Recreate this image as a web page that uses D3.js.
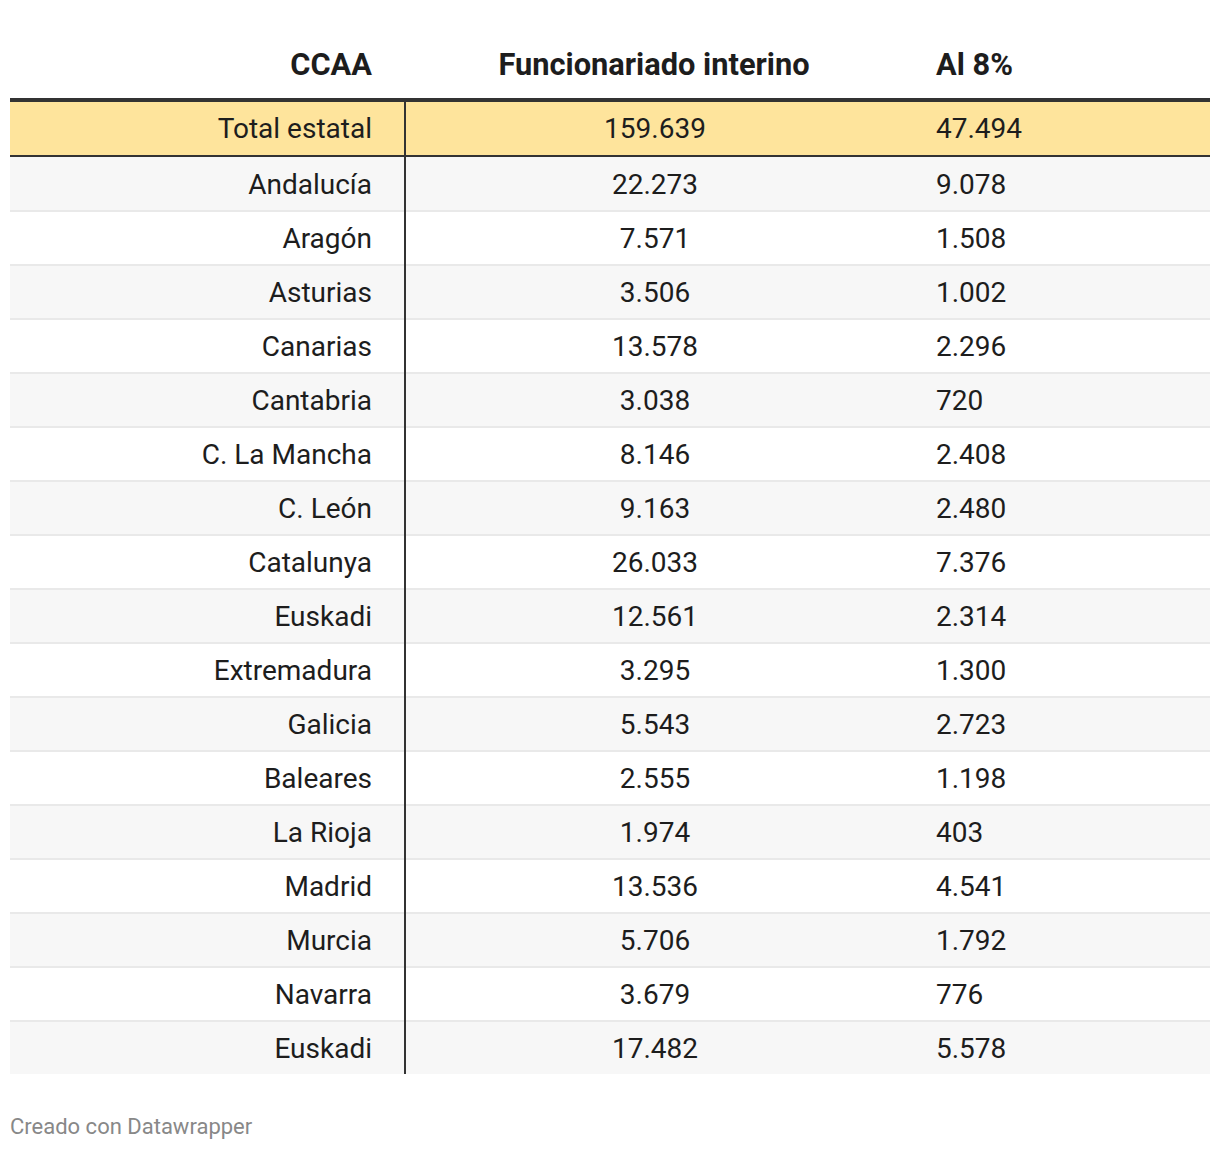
<!DOCTYPE html>
<html><head><meta charset="utf-8">
<script src="https://cdn.jsdelivr.net/npm/d3@7"></script>
<style>
html,body{margin:0;padding:0;background:#fff;}
svg text{font-family:Roboto,"Noto Sans",sans-serif;}
</style></head>
<body>
<script>
const headers = ["CCAA", "Funcionariado interino", "Al 8%"];
const regions = ["Total estatal","Andalucía","Aragón","Asturias","Canarias","Cantabria","C. La Mancha","C. León","Catalunya","Euskadi","Extremadura","Galicia","Baleares","La Rioja","Madrid","Murcia","Navarra","Euskadi"];
const funcionariado = [159639,22273,7571,3506,13578,3038,8146,9163,26033,12561,3295,5543,2555,1974,13536,5706,3679,17482];
const al8 = [47494,9078,1508,1002,2296,720,2408,2480,7376,2314,1300,2723,1198,403,4541,1792,776,5578];
const footer = "Creado con Datawrapper";

const W = 1220, H = 1150;
const svg = d3.select("body").append("svg").attr("width", W).attr("height", H);
const loc = d3.formatLocale({decimal: ",", thousands: ".", grouping: [3], currency: ["", "€"]});
const fmt = loc.format(",d");

const rows = regions.map((r, i) => ({i, name: r, f: funcionariado[i], a: al8[i]}));
const y = d3.scaleBand().domain(rows.map(d => d.i)).range([102, 102 + 54 * rows.length]).padding(0);
const left = 10, right = 1210;
const xCol1 = 372, xCol2 = 655, xCol3 = 936, xSep = 405;

// header
const hdr = svg.append("g").attr("font-weight", 700).attr("font-size", 30.8).attr("fill", "#1d1d1d");
hdr.append("text").attr("x", xCol1).attr("y", 75).attr("text-anchor", "end").text(headers[0]);
hdr.append("text").attr("x", xCol2 - 1).attr("y", 75).attr("text-anchor", "middle").text(headers[1]);
hdr.append("text").attr("x", xCol3).attr("y", 75).attr("text-anchor", "start").text(headers[2]);

// row backgrounds
const g = svg.append("g");
g.selectAll("rect.bg").data(rows).join("rect")
  .attr("x", left).attr("width", right - left)
  .attr("y", d => y(d.i)).attr("height", y.bandwidth())
  .attr("fill", d => d.i === 0 ? "#fee49c" : (d.i % 2 === 1 ? "#f7f7f7" : "#ffffff"));

// light separators
g.selectAll("rect.sep").data(rows.filter(d => d.i > 0 && d.i < rows.length - 1)).join("rect")
  .attr("x", left).attr("width", right - left)
  .attr("y", d => y(d.i) + y.bandwidth()).attr("height", 2)
  .attr("fill", "#e9e9e9");

// top thick border & total bottom border
g.append("rect").attr("x", left).attr("width", right - left).attr("y", y(0) - 4).attr("height", 4).attr("fill", "#333");
g.append("rect").attr("x", left).attr("width", right - left).attr("y", y(0) + y.bandwidth() - 1).attr("height", 2).attr("fill", "#333");

// vertical separator
g.append("rect").attr("x", xSep - 1).attr("width", 2).attr("y", y(0)).attr("height", y.range()[1] - y(0)).attr("fill", "#333");

// text
const tg = svg.append("g").attr("font-size", 28).attr("fill", "#1d1d1d");
const base = d => y(d.i) + y.bandwidth() / 2 + (d.i === 0 ? 9.3 : 10.8);
tg.selectAll("text.c1").data(rows).join("text").attr("x", xCol1).attr("y", base).attr("text-anchor", "end").text(d => d.name);
tg.selectAll("text.c2").data(rows).join("text").attr("x", xCol2).attr("y", base).attr("text-anchor", "middle").text(d => fmt(d.f));
tg.selectAll("text.c3").data(rows).join("text").attr("x", xCol3).attr("y", base).attr("text-anchor", "start").text(d => fmt(d.a));

// footer
svg.append("text").attr("x", 10).attr("y", 1134).attr("font-size", 22).attr("fill", "#888").text(footer);
</script>
</body></html>
